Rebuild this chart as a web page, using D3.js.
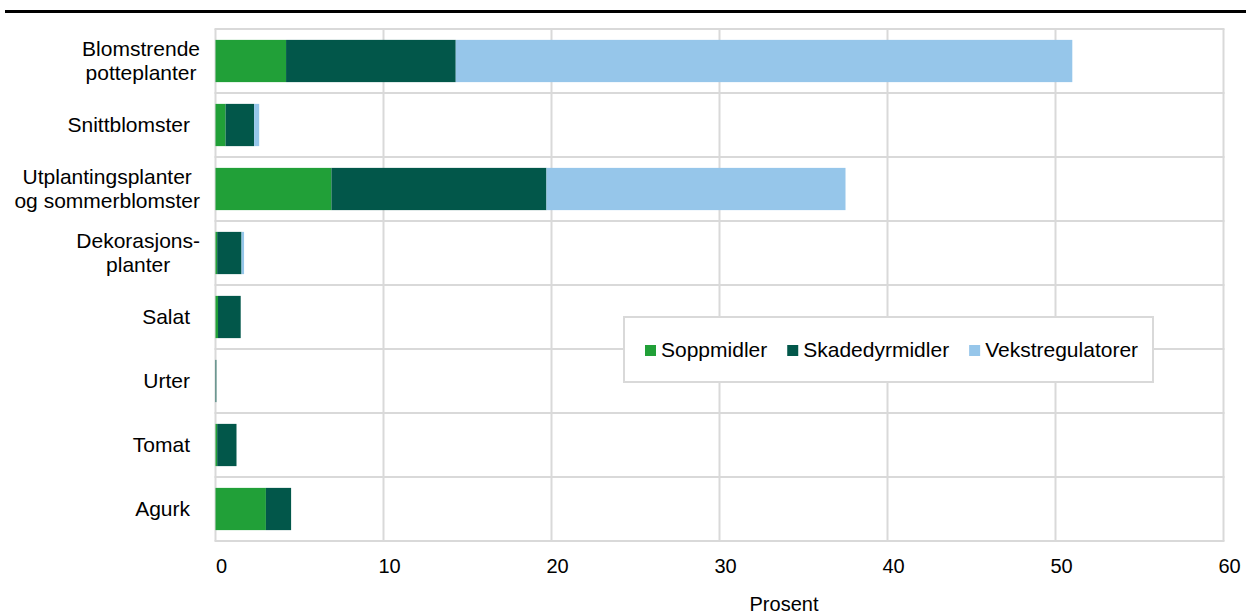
<!DOCTYPE html>
<html>
<head>
<meta charset="utf-8">
<script src="https://cdn.jsdelivr.net/npm/d3@7"></script>
<style>
  html, body { margin: 0; padding: 0; background: #fff; }
  svg { display: block; }
  text { font-family: "Liberation Sans", Arial, sans-serif; fill: #000; }
</style>
</head>
<body>
<svg id="chart" width="1246" height="616"></svg>
<script>
// ---- Data ----
const categories = [
  ["Blomstrende", "potteplanter"],
  ["Snittblomster"],
  ["Utplantingsplanter", "og sommerblomster"],
  ["Dekorasjons-", "planter"],
  ["Salat"],
  ["Urter"],
  ["Tomat"],
  ["Agurk"]
];
const seriesNames = ["Soppmidler", "Skadedyrmidler", "Vekstregulatorer"];
const soppmidler       = [4.2, 0.6, 6.9, 0.1, 0.15, 0.0, 0.1, 3.0];
const skadedyrmidler   = [10.1, 1.7, 12.8, 1.45, 1.35, 0.05, 1.15, 1.5];
const vekstregulatorer = [36.7, 0.3, 17.8, 0.15, 0.0, 0.0, 0.0, 0.0];
const xTicks = [0, 10, 20, 30, 40, 50, 60];
const xAxisTitle = "Prosent";

const colors = ["#21a038", "#02574a", "#96c6ea"];

// ---- Layout ----
const svg = d3.select("#chart");
const plot = { left: 215.5, right: 1223.5, top: 29, bottom: 541 };

const x = d3.scaleLinear().domain([0, 60]).range([plot.left, plot.right]);
const y = d3.scaleBand()
  .domain(d3.range(categories.length))
  .range([plot.top, plot.bottom])
  .paddingInner(0.34)
  .paddingOuter(0.17);

// top rule
svg.append("rect").attr("x", 5).attr("y", 10).attr("width", 1241).attr("height", 3).attr("fill", "#000");

const gridColor = "#d9d9d9";
const g = svg.append("g");

// vertical grid
g.selectAll("line.vg").data(xTicks).join("line")
  .attr("x1", d => x(d)).attr("x2", d => x(d))
  .attr("y1", plot.top).attr("y2", plot.bottom)
  .attr("stroke", gridColor).attr("stroke-width", 2);

// horizontal grid (category boundaries)
const step = (plot.bottom - plot.top) / categories.length;
g.selectAll("line.hg").data(d3.range(categories.length + 1)).join("line")
  .attr("x1", plot.left - 1).attr("x2", plot.right + 1)
  .attr("y1", d => plot.top + d * step).attr("y2", d => plot.top + d * step)
  .attr("stroke", gridColor).attr("stroke-width", 2);

// stacked bars
const rows = categories.map((c, i) => ({ i, vals: [soppmidler[i], skadedyrmidler[i], vekstregulatorer[i]] }));
const stack = d3.stack().keys([0, 1, 2]).value((d, k) => d.vals[k]);
const stacked = stack(rows);

svg.append("g").selectAll("g").data(stacked).join("g")
  .attr("fill", (d, k) => colors[k])
  .selectAll("rect").data(d => d).join("rect")
  .attr("x", d => x(d[0]))
  .attr("y", d => y(d.data.i))
  .attr("width", d => Math.max(0, x(d[1]) - x(d[0])))
  .attr("height", y.bandwidth());

// category labels
const fs = 21;
const labelG = svg.append("g");
categories.forEach((lines, i) => {
  const cy = plot.top + (i + 0.5) * step;
  const n = lines.length;
  const grp = labelG.append("g");
  const texts = lines.map((ln, j) =>
    grp.append("text")
      .attr("font-size", fs)
      .attr("y", cy + 6.5 + (j - (n - 1) / 2) * 24)
      .text(ln));
  const widths = texts.map(t => t.node().getComputedTextLength());
  const W = d3.max(widths);
  const R = n > 1 ? 200 : 190;
  texts.forEach(t => t.attr("x", R - W / 2).attr("text-anchor", "middle"));
});

// x tick labels
svg.append("g").selectAll("text").data(xTicks).join("text")
  .attr("x", d => x(d) + 6)
  .attr("y", 573)
  .attr("text-anchor", "middle")
  .attr("font-size", 20)
  .text(d => d);

// x axis title
svg.append("text").attr("x", 784).attr("y", 611).attr("text-anchor", "middle")
  .attr("font-size", 20).text(xAxisTitle);

// legend
const leg = svg.append("g");
leg.append("rect").attr("x", 624).attr("y", 317).attr("width", 529).attr("height", 65)
  .attr("fill", "#fff").attr("stroke", gridColor).attr("stroke-width", 2);
let lx = 645;
seriesNames.forEach((name, k) => {
  leg.append("rect").attr("x", lx).attr("y", 345).attr("width", 11).attr("height", 11).attr("fill", colors[k]);
  const t = leg.append("text").attr("x", lx + 16).attr("y", 357).attr("font-size", fs).text(name);
  lx += 16 + t.node().getComputedTextLength() + 20;
});
</script>
</body>
</html>
